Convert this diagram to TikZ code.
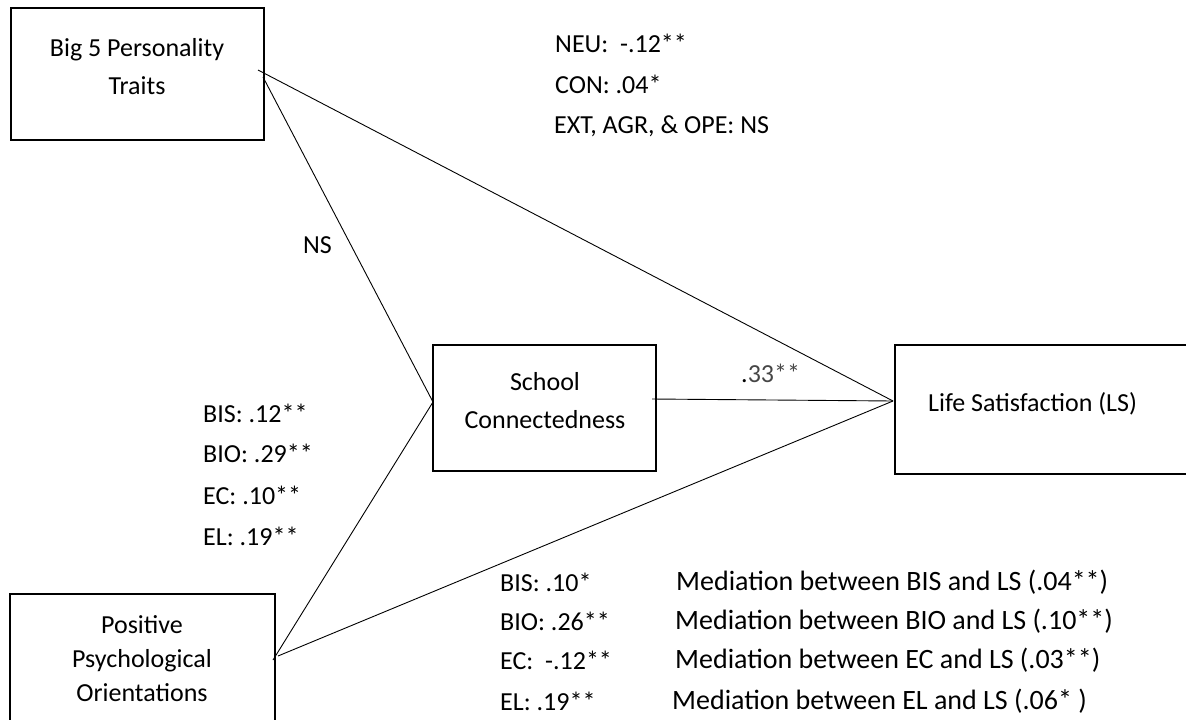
\documentclass[tikz,border=0pt]{standalone}
\usepackage{fontspec}
\setmainfont{Carlito}
\definecolor{numgray}{RGB}{70,70,70}
\begin{document}
\begin{tikzpicture}[x=1pt,y=-1pt,
  box/.style={draw, line width=1.6pt, inner sep=0pt},
  conn/.style={line width=0.9pt},
  boxtext/.style={align=center, inner sep=0pt, font=\fontsize{26}{38}\selectfont},
  lab/.style={anchor=west, inner sep=0pt, font=\fontsize{26}{30}\selectfont},
  medlab/.style={lab, font=\fontsize{28}{30}\selectfont}]
\clip (0,0) rectangle (1186,720);
\fill[white] (0,0) rectangle (1186,720);
% boxes
\node[box, minimum width=253pt, minimum height=132pt] (big5) at (137.5,74) {};
\node[box, minimum width=223pt, minimum height=126pt] (school) at (544.5,408) {};
\node[box, minimum width=305pt, minimum height=129pt] (ls) at (1047.5,409.5) {};
\node[box, minimum width=265pt, minimum height=166pt] (pos) at (142.5,677) {};
% box texts
\node[boxtext] (big5t) at (137,67) {Big 5 Personality\\Traits};
\node[boxtext] (schoolt) at (545,401) {School\\Connectedness};
\node[boxtext, anchor=west] (lst) at (928,404) {Life Satisfaction (LS)};
\node[boxtext, font=\fontsize{26}{34}\selectfont] (post) at (142,659) {Positive\\Psychological\\Orientations};
% connector ends
\coordinate (big5a) at (258,70);
\coordinate (big5b) at (263,77);
\coordinate (schL) at (433,402);
\coordinate (schR) at (652,399);
\coordinate (lsL) at (893,401);
\coordinate (posA) at (273,660);
\coordinate (posB) at (278,656);
\draw[conn] (big5a) -- (lsL);
\draw[conn] (big5b) -- (schL);
\draw[conn] (schR) -- (lsL);
\draw[conn] (posA) -- (schL);
\draw[conn] (posB) -- (lsL);
% labels
\node[lab] (neu) at (555,43) {NEU:\ \ -.12**};
\node[lab] (con) at (555,84) {CON: .04*};
\node[lab] (ext) at (554,126) {EXT, AGR, \& OPE: NS};
\node[lab] (ns) at (303,245) {NS};
\node[lab] (c33) at (741,373) {.\textcolor{numgray}{33**}};
\node[lab] (bis1) at (203,413) {BIS: .12**};
\node[lab] (bio1) at (203,453) {BIO: .29**};
\node[lab] (ec1) at (203,495) {EC: .10**};
\node[lab] (el1) at (203,536) {EL: .19**};
\node[lab] (bis2) at (500,582) {BIS: .10*};
\node[lab] (bio2) at (500,621) {BIO: .26**};
\node[lab] (ec2) at (500,660) {EC:\ \ -.12**};
\node[lab] (el2) at (500,701) {EL: .19**};
\node[medlab] (m1) at (676,582) {Mediation between BIS and LS (.04**)};
\node[medlab] (m2) at (675,621) {Mediation between BIO and LS (.10**)};
\node[medlab] (m3) at (675,660) {Mediation between EC and LS (.03**)};
\node[medlab] (m4) at (672,701) {Mediation between EL and LS (.06* )};
\end{tikzpicture}
\end{document}
